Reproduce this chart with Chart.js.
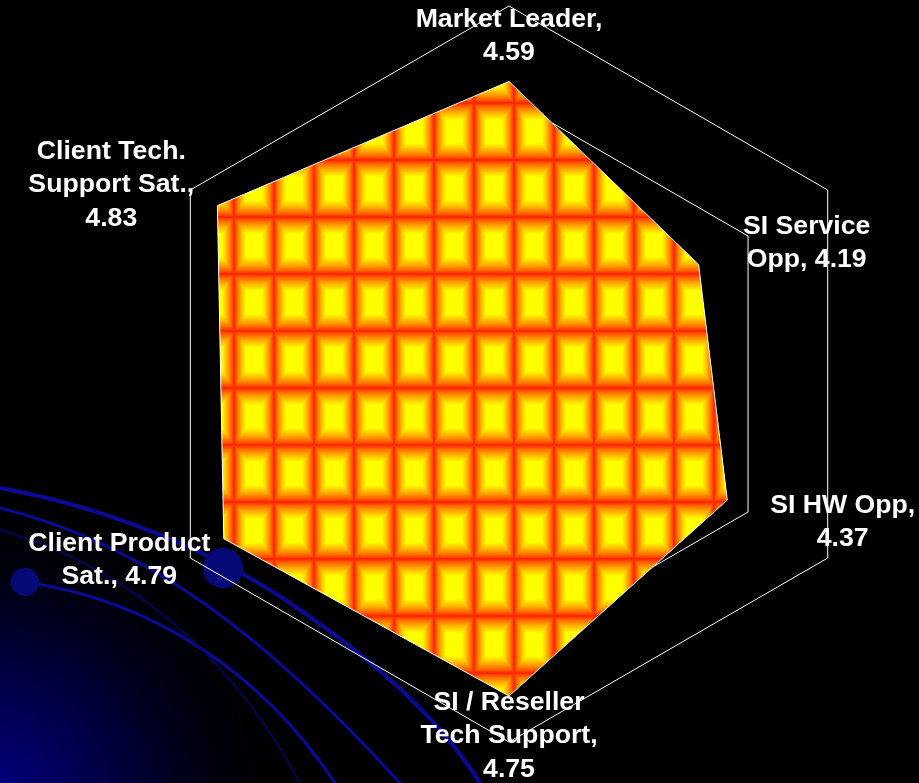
<!DOCTYPE html>
<html>
<head>
<meta charset="utf-8">
<script src="https://cdn.jsdelivr.net/npm/chart.js@4.4.1/dist/chart.umd.min.js"></script>
<style>
  html, body { margin: 0; padding: 0; background: #000; }
  #wrap { width: 919px; height: 783px; }
</style>
</head>
<body>
<div id="wrap"><canvas id="radar" width="919" height="783"></canvas></div>
<script>
// categories clockwise from the top, '\n' marks where the label wraps
const categories = ['Market Leader', 'SI Service\nOpp', 'SI HW Opp', 'SI / Reseller\nTech Support', 'Client Product\nSat.', 'Client Tech.\nSupport Sat.'];
const scores = [4.59, 4.19, 4.37, 4.75, 4.79, 4.83];
// does the value go on its own line under the name
const valueOwnLine = [true, false, true, true, false, true];
const axisMin = 3, axisMax = 5, axisStep = 0.5;

// where each data label sits, relative to its outer grid vertex
const labelShift = [[0, 30], [-21, 53], [15, -36], [0, -6], [-71, 2], [-79, -5]];

const labelText = categories.map((c, i) =>
    (c + ',' + (valueOwnLine[i] ? '\n' : ' ') + scores[i].toFixed(2)).split('\n'));

// tile for the fill: yellow centre, orange, red rim
function makeTile() {
    const w = 40, h = 57;
    const c = document.createElement('canvas');
    c.width = w; c.height = h;
    const ctx = c.getContext('2d');
    const img = ctx.createImageData(w, h);
    for (let y = 0; y < h; y++) {
        for (let x = 0; x < w; x++) {
            const dx = Math.abs(x + 0.5 - w / 2) / (w / 2);
            const dy = Math.abs(y + 0.5 - h / 2) / (h / 2);
            const t = Math.max(dx, dy);
            let g = (1 - t) / 0.6;
            g = Math.max(0, Math.min(1, g));
            g = Math.pow(g, 0.75);
            const k = (y * w + x) * 4;
            img.data[k] = 255;
            img.data[k + 1] = Math.round(25 + 230 * g);
            img.data[k + 2] = 0;
            img.data[k + 3] = 255;
        }
    }
    ctx.putImageData(img, 0, 0);
    return c;
}

const ctx = document.getElementById('radar').getContext('2d');
const fillPattern = ctx.createPattern(makeTile(), 'repeat');
fillPattern.setTransform(new DOMMatrix().translate(34, 46));

// black slide with the blue swirl in the lower left
const slideBackground = {
    id: 'slideBackground',
    beforeDraw(chart) {
        const c = chart.ctx;
        c.save();
        c.fillStyle = '#000';
        c.fillRect(0, 0, chart.width, chart.height);

        const glow = c.createRadialGradient(-20, 800, 0, -20, 800, 320);
        glow.addColorStop(0, 'rgb(0,0,135)');
        glow.addColorStop(0.5, 'rgb(0,0,50)');
        glow.addColorStop(1, 'rgba(0,0,0,0)');
        c.fillStyle = glow;
        c.fillRect(0, 400, 460, 383);

        c.strokeStyle = 'rgb(10,10,150)';
        c.lineCap = 'round';
        c.lineWidth = 4;
        c.beginPath();
        c.moveTo(0, 488);
        c.bezierCurveTo(120, 510, 230, 560, 300, 610);
        c.bezierCurveTo(380, 665, 440, 720, 480, 783);
        c.stroke();

        c.lineWidth = 3;
        c.beginPath();
        c.moveTo(0, 508);
        c.bezierCurveTo(150, 545, 270, 640, 400, 783);
        c.stroke();

        c.beginPath();
        c.moveTo(25, 582);
        c.bezierCurveTo(150, 600, 260, 670, 335, 783);
        c.stroke();

        c.strokeStyle = 'rgb(5,5,90)';
        c.lineWidth = 2;
        c.beginPath();
        c.moveTo(0, 530);
        c.bezierCurveTo(140, 570, 240, 670, 300, 783);
        c.stroke();

        c.fillStyle = 'rgb(5,10,120)';
        c.beginPath();
        c.arc(25, 582, 14, 0, Math.PI * 2);
        c.fill();
        c.beginPath();
        c.arc(223, 568, 20, 0, Math.PI * 2);
        c.fill();
        c.restore();
    }
};

// "name, value" labels placed from the scale's outer vertices
const dataLabels = {
    id: 'dataLabels',
    afterDatasetsDraw(chart) {
        const scale = chart.scales.r;
        const c = chart.ctx;
        const lineH = 33.5;
        c.save();
        c.font = 'bold 26.67px "Liberation Sans", Arial, sans-serif';
        c.fillStyle = '#fff';
        c.textAlign = 'center';
        c.textBaseline = 'middle';
        labelText.forEach((lines, i) => {
            const p = scale.getPointPosition(i, scale.drawingArea);
            const cx = p.x + labelShift[i][0];
            const cy = p.y + labelShift[i][1];
            lines.forEach((ln, k) => {
                c.fillText(ln, cx, cy + (k - (lines.length - 1) / 2) * lineH);
            });
        });
        c.restore();
    }
};

new Chart(ctx, {
    type: 'radar',
    data: {
        labels: categories,
        datasets: [{
            data: scores,
            backgroundColor: fillPattern,
            borderColor: '#fff',
            borderWidth: 1,
            pointRadius: 0,
            fill: true
        }]
    },
    options: {
        responsive: false,
        animation: false,
        layout: { padding: { left: 141, right: 42, top: 6, bottom: 41 } },
        plugins: { legend: { display: false }, tooltip: { enabled: false } },
        scales: {
            r: {
                min: axisMin,
                max: axisMax,
                ticks: { display: false, stepSize: axisStep },
                grid: { color: '#fff', lineWidth: 1 },
                angleLines: { display: false },
                pointLabels: { display: false }
            }
        }
    },
    plugins: [slideBackground, dataLabels]
});
</script>
</body>
</html>
